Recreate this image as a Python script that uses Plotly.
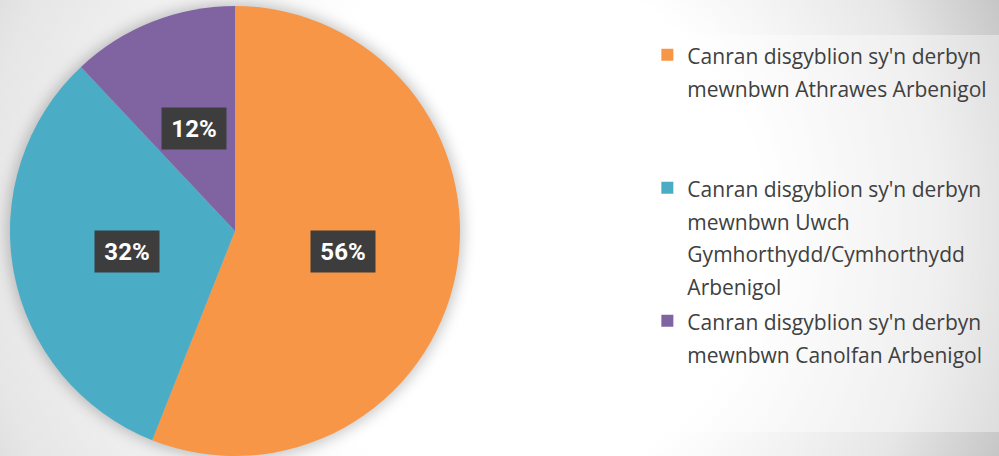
import math
import base64
import plotly.graph_objects as go

# ---- data ----
labels = [
    "Canran disgyblion sy'n derbyn<br>mewnbwn Athrawes Arbenigol<br>&nbsp;<br>&nbsp;",
    "Canran disgyblion sy'n derbyn<br>mewnbwn Uwch<br>Gymhorthydd/Cymhorthydd<br>Arbenigol",
    "Canran disgyblion sy'n derbyn<br>mewnbwn Canolfan Arbenigol",
]
values = [56, 32, 12]
colors = ["#F79646", "#4BACC6", "#8064A2"]

W, H = 999, 456

# pie placement (pixels)
pie_left, pie_right, pie_top, pie_bottom = 10, 460, 6, 456
dom_x = [pie_left / W, pie_right / W]
dom_y = [1 - pie_bottom / H, 1 - pie_top / H]
cx_px = (pie_left + pie_right) / 2
cy_px = (pie_top + pie_bottom) / 2
r_px = min(pie_right - pie_left, pie_bottom - pie_top) / 2

# ---- background (slide-like radial gradient, legend panel, pie shadow) ----
svg = f'''<svg xmlns="http://www.w3.org/2000/svg" width="{W}" height="{H}" viewBox="0 0 {W} {H}">
<defs>
<radialGradient id="g" gradientUnits="userSpaceOnUse" cx="430" cy="228" r="620" fx="560" fy="228">
<stop offset="0" stop-color="#ffffff"/>
<stop offset="0.42" stop-color="#ffffff"/>
<stop offset="0.78" stop-color="#e6e6e6"/>
<stop offset="1" stop-color="#c4c4c4"/>
</radialGradient>
<filter id="b" x="-20%" y="-20%" width="140%" height="140%"><feGaussianBlur stdDeviation="7"/></filter>
</defs>
<rect x="0" y="0" width="{W}" height="{H}" fill="url(#g)"/>
<rect x="659" y="35" width="{W-659}" height="397" fill="#ffffff" fill-opacity="0.38"/>
<circle cx="{cx_px}" cy="{cy_px}" r="{r_px+3}" fill="#000000" fill-opacity="0.22" filter="url(#b)"/>
</svg>'''
bg_src = "data:image/svg+xml;base64," + base64.b64encode(svg.encode()).decode()

leg_text = [f'<span style="font-size:21px">{t}</span>' for t in labels]

fig = go.Figure(
    go.Pie(
        labels=leg_text,
        values=values,
        marker=dict(colors=colors, line=dict(width=0)),
        sort=False,
        direction="clockwise",
        rotation=0,
        textinfo="none",
        hoverinfo="label+percent",
        domain=dict(x=dom_x, y=dom_y),
    )
)

# data labels (dark boxes) placed at half radius along each slice's mid-angle
total = sum(values)
cum = 0
annotations = []
for v in values:
    mid = (cum + v / 2) / total * 2 * math.pi
    cum += v
    d = 0.49 * r_px
    x_px = cx_px + d * math.sin(mid)
    y_px = cy_px - d * math.cos(mid)
    annotations.append(
        dict(
            x=x_px / W, y=1 - y_px / H, xref="paper", yref="paper",
            text=f"<b>{round(v / total * 100)}%</b>",
            showarrow=False,
            font=dict(family="Roboto", size=24, color="#ffffff"),
            bgcolor="#3d3d3d",
            width=52, height=29, borderpad=6,
            xanchor="center", yanchor="middle",
        )
    )

fig.update_layout(
    width=W, height=H,
    margin=dict(l=0, r=0, t=0, b=0),
    paper_bgcolor="#ffffff",
    images=[dict(source=bg_src, xref="paper", yref="paper", x=0, y=1,
                 sizex=1, sizey=1, xanchor="left", yanchor="top",
                 sizing="stretch", layer="below")],
    showlegend=True,
    legend=dict(
        x=0.648, y=0.93, xanchor="left", yanchor="top",
        font=dict(family="Open Sans", size=25, color="#404040"),
        bgcolor="rgba(0,0,0,0)",
        valign="top",
        traceorder="normal",
    ),
    annotations=annotations,
)

fig.write_html("out.html", config={"displayModeBar": False},
               post_script="document.body.style.margin='0';")
